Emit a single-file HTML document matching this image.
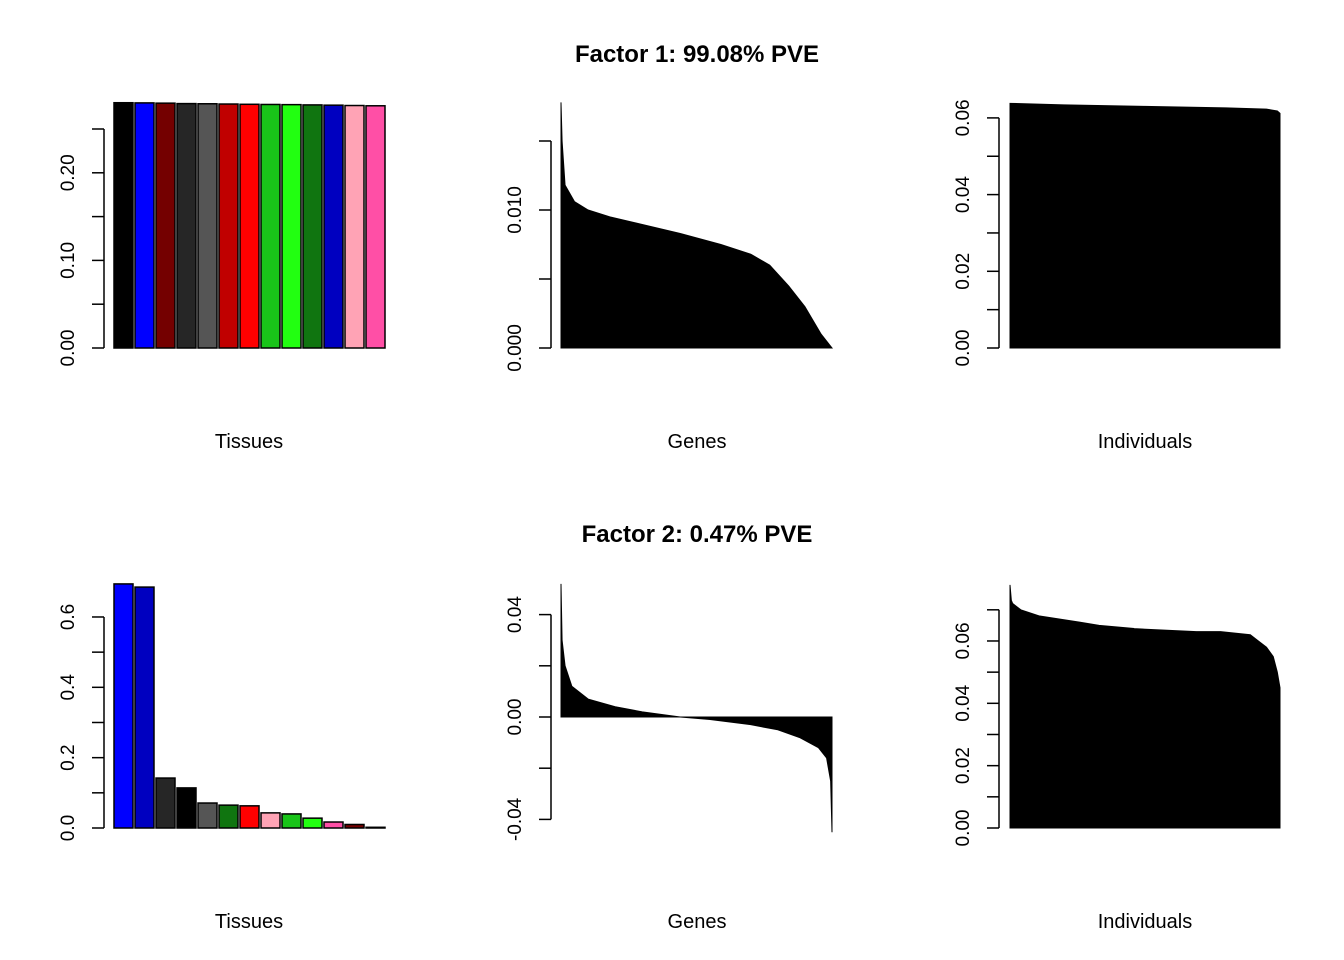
<!DOCTYPE html>
<html><head><meta charset="utf-8">
<style>
html,body{margin:0;padding:0;background:#fff;}
svg{display:block;font-family:"Liberation Sans",Arial,sans-serif;}
</style></head>
<body>
<svg id="c" width="1344" height="960" viewBox="0 0 1344 960">
<text x="697" y="62" text-anchor="middle" font-size="24" font-weight="bold">Factor 1: 99.08% PVE</text>
<text x="697" y="542" text-anchor="middle" font-size="24" font-weight="bold">Factor 2: 0.47% PVE</text>
</svg>
<script>
// ---- data ----
const f1TissueValues = [0.2800,0.2798,0.2795,0.2790,0.2788,0.2785,0.2782,0.2780,0.2778,0.2775,0.2772,0.2768,0.2765];
const f1TissueColors = ["#000000","#0000FF","#740000","#262626","#555555","#C00000","#FF0000","#19C419","#22FF11","#107510","#0000C0","#FFA3B5","#FF4FA6"];
const f2TissueValues = [0.694,0.685,0.142,0.114,0.071,0.065,0.063,0.043,0.040,0.028,0.017,0.010,0.002];
const f2TissueColors = ["#0000FF","#0000C0","#262626","#000000","#555555","#107510","#FF0000","#FFA3B5","#19C419","#22FF11","#FF4FA6","#740000","#000000"];
const f1GeneRanks = [0,0.004,0.015,0.05,0.1,0.18,0.29,0.44,0.59,0.7,0.77,0.84,0.9,0.96,1];
const f1GeneValues = [0.0178,0.0150,0.0118,0.0106,0.0100,0.0095,0.0090,0.0083,0.0075,0.0068,0.0060,0.0045,0.0030,0.0010,0.0];
const f2GeneRanks = [0,0.004,0.015,0.04,0.1,0.2,0.3,0.44,0.55,0.7,0.8,0.88,0.95,0.98,0.995,1];
const f2GeneValues = [0.052,0.030,0.020,0.012,0.007,0.004,0.002,0.0,-0.001,-0.003,-0.005,-0.008,-0.012,-0.016,-0.025,-0.045];
const f1IndRanks = [0,0.2,0.5,0.8,0.95,0.99,1];
const f1IndValues = [0.0638,0.0634,0.0630,0.0626,0.0623,0.0618,0.0612];
const f2IndRanks = [0,0.005,0.01,0.04,0.11,0.26,0.33,0.46,0.45,0.69,0.78,0.89,0.92,0.95,0.975,0.99,1];
const f2IndValues = [0.078,0.073,0.072,0.070,0.068,0.066,0.065,0.064,0.064,0.063,0.063,0.062,0.060,0.058,0.055,0.050,0.045];
const f1TissueTicks = ["0.00","","0.10","","0.20",""];
const f2TissueTicks = ["0.0","","0.2","","0.4","","0.6"];
const f1GeneTicks = ["0.000","","0.010",""];
const f2GeneTicks = ["-0.04","","0.00","","0.04"];
const f1IndTicks = ["0.00","","0.02","","0.04","","0.06"];
const f2IndTicks = ["0.00","","0.02","","0.04","","0.06",""];

const svg = document.getElementById('c');
const NS = "http://www.w3.org/2000/svg";
function mk(tag, attrs, parent){ const e=document.createElementNS(NS,tag); for(const k in attrs) e.setAttribute(k,attrs[k]); (parent||svg).appendChild(e); return e; }

function axis(axX, y0val, step, ticks, scale, name){
  const g = mk('g',{});
  
  
  const ys = ticks.map((t,i)=>scale(y0val+i*step));
  mk('line',{x1:axX,x2:axX,y1:ys[0],y2:ys[ys.length-1],stroke:'#000','stroke-width':1.5},g);
  ticks.forEach((t,i)=>{
    const y=ys[i];
    mk('line',{x1:axX-12,x2:axX,y1:y,y2:y,stroke:'#000','stroke-width':1.5},g);
    if(t!==""){
      const tx=mk('text',{x:0,y:0,'font-size':19,'text-anchor':'middle',transform:`translate(${axX-30},${y}) rotate(-90)`},g);
      tx.textContent=t;
      
      
    }
  });
}
function xlabel(cx, y, txt){
  const t=mk('text',{x:cx,y:y,'text-anchor':'middle','font-size':20});
  t.textContent=txt;
  
  
}
function bars(vals, cols, base, ppu, name){
  const x0=114, pitch=21, w=19;
  vals.forEach((v,i)=>{
    const h=v*ppu;
    const r=mk('rect',{x:x0+i*pitch,y:base-h,width:w,height:Math.max(h,0.5),fill:cols[i],stroke:'#000','stroke-width':1.5});
    
    
  });
}
function area(ranks, vals, x0, x1, scale, name){
  const zero=scale(0);
  let d=`M${x0},${zero}`;
  ranks.forEach((r,i)=>{ d+=` L${x0+r*(x1-x0)},${scale(vals[i])}`; });
  d+=` L${x1},${zero} Z`;
  const p=mk('path',{d:d,fill:'#000',stroke:'#000','stroke-width':1});
  
  
}

// Row 1
const s1t=v=>348-v*876;
axis(104,0,0.05,f1TissueTicks,s1t,'f1-tissue-y-axis');
bars(f1TissueValues,f1TissueColors,348,876,'f1-tissue');
xlabel(249,448,'Tissues');
const s1g=v=>348-v*13800;
area(f1GeneRanks,f1GeneValues,561,832,s1g,'f1-gene-area');
axis(551,0,0.005,f1GeneTicks,s1g,'f1-gene-y-axis');
xlabel(697,448,'Genes');
const s1i=v=>348-v*3835;
area(f1IndRanks,f1IndValues,1010,1280,s1i,'f1-individual-area');
axis(999,0,0.01,f1IndTicks,s1i,'f1-individual-y-axis');
xlabel(1145,448,'Individuals');

// Row 2
const s2t=v=>828-v*351.7;
axis(104,0,0.1,f2TissueTicks,s2t,'f2-tissue-y-axis');
bars(f2TissueValues,f2TissueColors,828,351.7,'f2-tissue');
xlabel(249,928,'Tissues');
const s2g=v=>717-v*2560;
area(f2GeneRanks,f2GeneValues,561,832,s2g,'f2-gene-area');
axis(551,-0.04,0.02,f2GeneTicks,s2g,'f2-gene-y-axis');
xlabel(697,928,'Genes');
const s2i=v=>828-v*3117;
area(f2IndRanks,f2IndValues,1010,1280,s2i,'f2-individual-area');
axis(999,0,0.01,f2IndTicks,s2i,'f2-individual-y-axis');
xlabel(1145,928,'Individuals');
</script>
</body></html>
